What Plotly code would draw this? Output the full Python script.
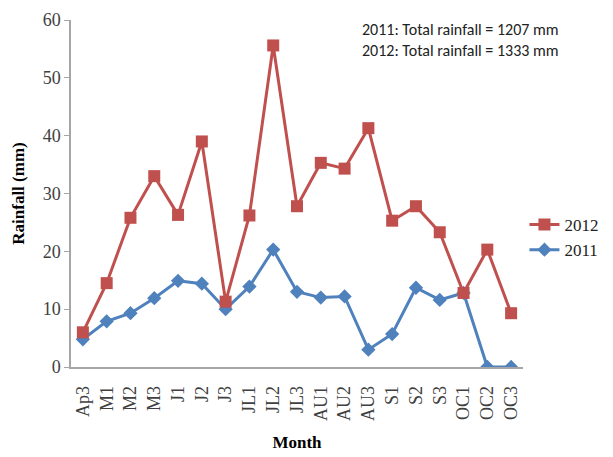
import plotly.graph_objects as go

months = ["Ap3", "M1", "M2", "M3", "J1", "J2", "J3", "JL1", "JL2", "JL3",
          "AU1", "AU2", "AU3", "S1", "S2", "S3", "OC1", "OC2", "OC3"]
rain_2012 = [6.0, 14.5, 25.8, 33.0, 26.3, 39.0, 11.3, 26.2, 55.6, 27.8,
             35.3, 34.3, 41.3, 25.3, 27.8, 23.3, 12.8, 20.3, 9.3]
rain_2011 = [4.8, 7.9, 9.3, 11.9, 14.9, 14.4, 10.0, 13.9, 20.3, 13.0,
             12.0, 12.2, 3.0, 5.7, 13.7, 11.6, 12.8, 0.0, 0.0]
y_ticks = [0, 10, 20, 30, 40, 50, 60]
note_lines = ["2011: Total rainfall = 1207 mm", "2012: Total rainfall = 1333 mm"]

serif = "Liberation Serif, Times New Roman, serif"

fig = go.Figure()
fig.add_trace(go.Scatter(
    x=months, y=rain_2011, name="2011", mode="lines+markers",
    line=dict(color="#4F81BD", width=3),
    marker=dict(symbol="diamond", size=11, color="#4F81BD"),
))
fig.add_trace(go.Scatter(
    x=months, y=rain_2012, name="2012", mode="lines+markers",
    line=dict(color="#C0504D", width=3),
    marker=dict(symbol="square", size=12, color="#C0504D"),
))

fig.update_layout(
    width=605, height=449,
    margin=dict(l=63, r=90, t=12, b=90, autoexpand=False),
    paper_bgcolor="white", plot_bgcolor="white",
    font=dict(family=serif, color="#404040", size=18),
    showlegend=True,
    legend=dict(x=1.178, y=0.461, xanchor="right", yanchor="top",
                traceorder="reversed", font=dict(size=17, color="#222222"),
                bgcolor="rgba(0,0,0,0)", itemwidth=30, tracegroupgap=0),
    xaxis=dict(
        type="category", tickmode="array", tickvals=months, ticktext=months,
        range=[-0.5, len(months) - 0.5], automargin=False,
        showline=True, linecolor="#A6A6A6", linewidth=1.5,
        ticks="", tickangle=-90, ticklabelstandoff=10,
        showgrid=False, zeroline=False,
        tickfont=dict(family=serif, size=18, color="#404040"),
        title=dict(text="<b>Month</b>", standoff=16,
                   font=dict(family=serif, size=17, color="black")),
    ),
    yaxis=dict(
        range=[0, 60], tickvals=y_ticks, showline=True, linecolor="#A6A6A6",
        automargin=False,
        linewidth=1.5, ticks="outside", ticklen=5, tickcolor="#A6A6A6",
        showgrid=False, zeroline=False,
        tickfont=dict(family=serif, size=18, color="#404040"),
        title=dict(text="<b>Rainfall (mm)</b>", standoff=14,
                   font=dict(family=serif, size=17, color="black")),
    ),
    annotations=[dict(
        x=0.64, y=1.005, xref="paper", yref="paper", xanchor="left", yanchor="top",
        text="<br>".join(note_lines), showarrow=False, align="left",
        font=dict(family="Liberation Sans Narrow, Carlito, Arial Narrow, sans-serif",
                  size=16, color="#222222"),
    )],
)

fig.write_html("out.html")
